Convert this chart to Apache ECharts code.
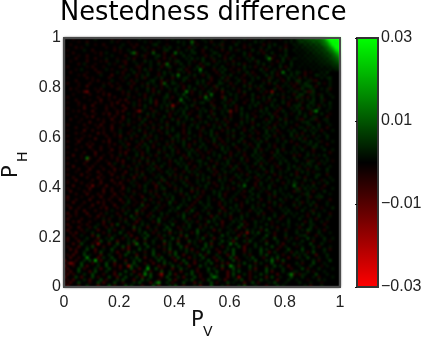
<!DOCTYPE html>
<html><head><meta charset="utf-8">
<style>html,body{margin:0;padding:0;background:#fff}#c{width:436px;height:342px}</style>
<script src="https://cdn.jsdelivr.net/npm/echarts@6/dist/echarts.min.js"></script>
</head><body><div id="c"></div>
<script>
var titleText = 'Nestedness difference';
var axisTicks = [0, 0.2, 0.4, 0.6, 0.8, 1];
var barTicks = [-0.03, -0.01, 0.01, 0.03];
var barLabels = ['\u22120.03', '\u22120.01', '0.01', '0.03'];
var levels = {'.':0, a:0.003, b:0.005, c:0.008, d:0.012, w:-0.003, x:-0.005, y:-0.008, z:-0.012};
// estimated speckle field, top row (P_H = 1) first
var noiseRows = [
'...w.......a.....w..w......a.........w.a.....w....a..a....w......a.w....a.....w...a...a....w...a.....',
'.....w..x........a.w...w.....a.w..a......b.a...w...a.x...a...w.a.....b.a..w.....a.a....a.....a.......',
'..w.....a..w..x......a..w.x.....ab...w.....a..b.w.....a.ax....b..w.a....x.a.b...w..a...b...w..a......',
'....x.w........w..w.a....x..a.w...w.a.b..a...x.a...b...w.a..b....x.w...a..b...a.x...a..w.a...........',
'.w.....a..x.......x.w..a.....a..x...ab...w..a.b...x..a...x..a.wa....b..x.a....w.b..a.a....b...a......',
'...x.......w.x.a....w...b.x...w.a...x...a.b...ab..w...ba...x.....b.w..a.x..b....a...x.a.....w........',
'.w...w..x....w...a....x...w.ax...ab.w..x...b.a.....x.a..b.w..a...a.x.....b..w.a.b....a..ab...a.......',
'....x...w..x...a...w...a.x...w...a..x.a.w...a.b.a.b..wa...x.b..w..a.b....a.x...b.w.a...b....a........',
'..w.....x....w.x...a.wx..a...b.a..x...w.ab...a.w..b...x.a.a..x.....a.wb...a..x.b..a...x.a...w..a.....',
'.....x.a...w....a.w...x...a.w..a..b.x...w.b..a...x.ab..a...w.a.b.x....a.b..w..a...b.w..b....a........',
'.x......w.x...w.....xa....wx...a...x.ab....a.w..b.x...a..b...w...b.a.x..w.a...b.x.a.a....ab...a......',
'....w.a....x...a.w....x.a..w.b.x..a...w..ab.x..a.b....x.a.b.w..x.a.....b.x..a.w..b..a.w...a...b......',
'..x.....w...xw.....a.x...b.w..a...w.b.a..w.a.x...b.a...x.b...w.a..b.x...a..b.w....a.b..x.a...a.......',
'.....w.x.....a...y...w.a..x.a.b...x.a..b.w...a.b..x.a...w.a.b....x.a.w...b.a.x..a.b....a....a........',
'.w......x.w.....x...w.a...w.ax...a.b...x.a.ab..w....ax...b.x..a.w...a.b...xa..w..b.a.x...a.....a.....',
'....x.....w.x....a...w..x.a....ab..x.w.a...b.w..a.b..x..a.wa...b.x..a...w.b..a.x.a..b...a.w..........',
'.x...w...x....w.x..w...a.x..w.b.a..x...ba.w.....b.a.x...ba..x.a..w.b....a.x.b...a.w..a.b....a...a....',
'.....w..y.....a..x..w...x...a.x..a.w.b...a.x.b...w.a..xb...a.w...b.x.a.b.....x.a.a.x...a.b...........',
'..x.w......w.x.....xa...w.a...b.x..w..a.b..x.a.b..w..a.x.b...a.w...b..x.a...b.x...a.w.b...a....a.....',
'.....w.y....x.w......x.a..w...a.x.b...w.a...b.x..a..b.w..y.a...x.b.....a.x.b...w.a.a...b.x...........',
'...w.....x....x.y....w.x...a.x..a.w..b...a.c..w..a.x.a...w..b.a..x..b...w..b.a.a...x.b...a...a.......',
'.x.....w....x...w.x....a.w...x.a....ab.x..a.b....x.b.a...yb...a.w...a.x.a.b....x.a..b.w...a..........',
'....x....w...y..w...x.y....x.a.b.x..a.w...b..a.x...ab.w...b.x.a...w.b...a.x.b..a..w...a.b....a.......',
'.w...x.....x.w...x.y...x.a.w...b.y..a.a..x.b...a.ab..x...a.w.b...x..a.b..w.a...b.x...a...b...........',
'.....w.x..y....w.x...y...a.x.b...x.a.b..w...a.bw.....ax...b.a.x....a.b.w...b.a...x.a.b....a...a......',
'.x.....y...w...x..w...y..w...a.x...a.w.b..a.b...x.a...b.w.a...x.b..a...w.b..a.x...a.b....a...........',
'...w.x....y....w...x.y....x.a...xa...b.w.a.b..w..a.b.x...a.b..x.a....w.b.a...x.b...a.a....b..........',
'.w.....x...w..x.y..x...a.w....b.a.w...x.a..b.x...a...wb..a..x...b.a.w...a.b.x...a.w..b.a.....a.......',
'....w...x.y.....w.x..y...w.a..x.a...b.x...a.b...xa..b.w...a.x...a.b..x.a...b.x..a...b.....a..........',
'..x...w.....x.w..y...x.a...x.b...w.a...b.x..a.b..w...a.b..x.a...w.a.b....x.a..b.x...a.x...a...a......',
'.....w...y....x...w.x..a.w..b..x...a.x...b.a...w.a.b...w.a.x....b.a.x...a.b..w..b.a....a....a........',
'.x.....x...w.y...x...a.x...a.x..a.w..b...a.x..b.a...x.a.w.b...x.a...w.b..a..x.a.a...b....a...........',
'....x...w...x.w..y..w....a.w..a.x..b.x.a...w.a..b.x...a.b..x...a.w..b...a.x.b..a..w...a.....a........',
'.w.....y..x...w..x..a...w..b.w..a.x..a.b...x.a...wa..b...x.a.b...x.a.w...b.a.x...a.b.....a...........',
'....x.w.....y.x...w.a..x.a...x.a...w.b...a.x.b...w.a.b.x...a.w..b...a.x..b..a.w...b.a.....a...a......',
'.x.....w.x.....x..w.y...a.x..b.x.a....x.ab..w..a.x...b.a...w.b...a.x....a.b.x..a..b.x...a............',
'....w.x....y....x...w.a.x...a.x..a.w...b.a.x.b...a.w..b.x..a.w..b...a.x..b...a.w...a.......a.........',
'.x...y...w....x.y...a.w...a.x..b.w...a.x.a.b...x.a..w.b..x.a...b.x...a.b.w...a..b.x...a.....a........',
'....w...x.x.....w.x..a.y...x.b..w.a..x.a...b.x.a..b...x.a.w..b...a.x..b...a.w..a....b....a...........',
'.x....w..y...x..w...x.a...x.a.b.x...a.b.w..a.x...b.a...x.b.a..x...a.w.b...a.x..a...a......b..........',
'....x.....w..x...y..w..x.a.w..b...x.a..b.w..a.b.x..a.w...b.a...x.a...b.x.a...b.x...a.................',
'.w.....x...y....w...x.y...a.x.a...b.w..a.x...b.a.w..x.a...b.x..a.w...b.a...x.b..a.a.....a............',
'...y..w....x..w..x..a.w...b.x..a.x...b.a...x.b..a.w...a.b...x.a..x..b.a.w...b.a....x.a....a..........',
'.x....w..x...y...w.x...a.w..b.x...a.w.a...b.x.a...w.b...a.x.a...b.w..a.b...x.a.a...b.................',
'....w...y...x..w...x.y...a.x..b.w.a...x.b.a...w.ab...x.a...b.w..a.x...b.a.w...a.b...x....a...a.......',
'.x.....x...w....y.a..x...w.a..x.b...a.w..b.a.x...a.b...x.a.b...w.a...b.x.a..w.b..a.......a...........',
'...y....w.x..w...x...a.x..a.w..a.x.b..w...a.b..x.a..w.b...a.x.b...a.w..b...a.x...a.b...a.............',
'.x...x...y....x...y.w...a.x...a.b.x...a.x...b.w.a...b.x..a...b.x..a...w.b..a..w..b...a.....a.........',
'....w...x...y...x.w...y...a.x..a...w.b.a...x.b.a.w...a.x..b.a...w..b.a...x.b..a.a...x................',
'.x....y..w...x...y...x..a.x.b...w.a...b.x.a...w.b.a...x.a.w...b.a.x...b.a...x.a...b........a.........',
'...x....x...y.w....x.a...y.a.x...a.b..w.a.x.b...w.a.b...x.a..w.b...a.x.a..b...x.a...a................',
'.w..y.....x..x...y...w.x.a...w.a...xb...w.a.x...a.b.w...b.a.x...a.b...x..a.w.b...a.a.....a....a......',
'.x....x..w...y....x.y...a.w...a.x.b..x.a...b.w..a...b.x..a...b.w.a...x.b...a...x.a.b.................',
'...y....x...w..y...w.x...a.x.b...y.a..x.a...b.w..a.b...x.a.w...b.a...x.a..b.w...a.......a............',
'.x...w...y....x..x...y.a...w.a...x.ab...x.a...b.x..a.w...b.a.x..a...b.w.a.b...a.a...b....a...........',
'..y....x.w....y..x..w..a.x...b.x.a..w...a.b...y.a.x...b.a..w...a.x.b...a.w..b.a....x.a...............',
'....x...y...x.w...y..x...a.w...a.x..b.a...x.b...a.w...a.b.x...a.w...b.a...x.b..a.a.....a.............',
'.y....w...x..y...x.w..a.x...y...a.x..a.b...w.a.b.x..a...b.w..a...x.a..b...a.x...a.b.....a...a........',
'.x..x....y....w.x...y..a.w...b.x...a.w.b...a.b..x...a.w..b..a.x...a.b..x..a...b.w...a................',
'...y...x....y.x..w...x.b..w.x...a.x...c.w..a...x.b..a...x.a.a...w.b...a...x.b..a...w.a...............',
'.x....w...y...x...y...a..w..c.x...a.w.a...b.a.x...a.b...x.a...b.x...a.w.b...a.x....b.....a...........',
'..y..x...w...x.y...x.a.w...a.x...b.w...a.c...x.a...b.a...y..b.a.w...b.a...x...a.a...x................',
'....x..y...x...w.a...x.a..c.x...a.w...b.a...x.c...a.w...b.x..a.b...x.a.b...w...a.b.......a...........',
'.y..x...y....x.a...x..b...y.a..x...b.a...w.b.a..x...b...x.a.b...w.a...b.x...a...b.a..................',
'..x.w....x..y.w..a..x...c.a...x.b..a.w...a.c...x.a...y.b..a.x...b.a...w.a...b..x...a....a............',
'.y....x....w..a.x...a.x..b.x...a..c.w..a...b.x...a.w..b.a...x.a.b...w...a.c...x..a...................',
'...x.y...x....y.a...w.b...y.a...x.c...a.w...b.a.x...c.a..y...b.a.x...b.a...w.a...b.....a.............',
'.y....w.x...a.x..y.c...a.x..b.a...x.a..c...w.b...a.x...b.x..a...c.x..a...b.w...a.a.......a...........',
'..x..y...x.b...x.a...x...c.a..y..a...c...x.a.b...x.a.b...w.a...c.x...a.b...a.x...a...................',
'.y....x.a...y...b.x..a...y.b...a.x..b.c...x.a...c.a...y.b...a.x...b.a..x.c...a..x...a....a...........',
'..x.y..w..b...x.a...c..x...a.c..x.a...y.a.b...x.c...a...w..b.a..x...b.c...a.x...a....................',
'...x..a...y.c...x.a...b.y...a.c...x.b.a...y.c...a..x.b...c.a...y.b...a...c..x...b.....a..............',
'.y..x...b...y..a.c...x.a..y..c...a.x...c.b..x...a.c...y.a...b.c...x.a...b...c...x.a..................',
'.x...y.a...x.c..b..y...a.c...x..b...c.a..y...c.a.x...b...c.a.y...b.c...a.x...b...a...................',
'...y..c...x.a...y..c...b.x...c..a...y.b..c...x.a...c.y..b...a.c...x..b...c...a.y...b.....a...........',
'.x...y..a.c...x...b..c.y...a..c...x.a.b...c.y...a..c.b...x.a...c.y...b.a...c..x.a....................',
'..y.x...c..y..a..c...x.y...c.a..b...x.c...a.b.y...c.a..x...b.c...y.a...c.b...x...c...................',
'....y..b...x.c...a.y...c.b...x..c...a.y.c...b.a.x...c...y.b..c...x.a...c..y.b...a.x...a..............',
'.x.y...c.a...y..b...x.c...y..a..c.x...b.c..y...a.c.x...b...y.c...a.x...b.c...a.x...b.................',
'..y..x..c...y.b..c..x...a.c..y...b.c...x.c...y.a..c...x.b...c.y...a.c...x..b.c...y...a...............',
'y...x..b.c...y..a.c...y..b.c...x..c.b...y..c...x.a..c..y.b...c.x...a.c...b...x.c.....................',
'.x.y..c...x.a..c..y...b..c...x..y...c.b...x.c..y...b.c...x.y...a.c...x.b...c...x.....................',
'y..x..c.y...b..c..x.y...c.b...c...y.x..c.b...y...c.a...x.c...b.y...c.a...x..c.b..y...a...............',
'.y...c.x...b.y..c...x...c..y..b..c.x...y..c.a...x...c.b..y...c.a...b.y...c.a...b..x..................',
'x.y..c...y.c...b..x...c..y...c.x...c..b...y...c.x...b..c...y.b.c...x.a...c.y...b...a.................',
'.y.x...b..c...x...y.c...b..y...c..x...c.y...b.c..x...c.a...y.c...b.x...c.a...y...b.x..a..............',
'y...c.y...c.x...c..y..c...b.y..c...x.c...b.y...c.x...b.c...y.a.c...x.b...y.c..a...c..................',
'.x.y...b.y...c.x...b.c...y..c.b...x...c.y...b.c...x.c...a.y...b.c..x...c.a...y...b..x................',
'x.y..c...x..c.y...c..x...b.c...y.c...b.x...c...y.b...c.x...c.a...y..c.x...a.c...a....................',
'.y...x..b...y...c.x...c.b...x...c.y...b.c..x...a.y...c...a.x...b.c...a...x...b.a.....................'
];
// specks of the right margin, columns 84 to 98, rows 12 down to 89
var rightFirstColumn = 84;
var rightFirstRow = 12;
var rightRows = [
'.a...w...a.b..','a..x...b..a...','...a.w...a..b.','.b...a.x....a.','x...a...b.w...','..a.b..x....a.','.w...a...a..x.','a...x.b....a..',
'..b...a.w...a.','.a..x....b...a','x...a.b...w...','..w...a..a..b.','a...b...x...a.','..x.a...b...a.','.b...w.a...a..','...a.x...b..w.',
'a..b...a...x..','.w...a.x...a..','..a.b...w..a..','x...a...b...a.','.a..w.b....x..','...b...a.x...a','a.x...b...a...','..a...w.a..b..',
'.b.x...a...a..','...a.b...w...a','x...a..b...x..','.a.w...a.a....','..b...x...b..a','a...a.w.....x.','.x..b...a.b...','...a...w...a..',
'b...x.a....a.w','..a.b...x.a...','.w...a.b....a.','a...x...a..b..','..b.a.w....a..','x...a...b..x..','.a.x...b....a.','...b.a...w...a',
'a.w...x.a..b..','..a...b...x...','.x.b...a.w...a','a...a.x...b...','..w.b...a...a.','.a...x.a.b....','b...a...w...x.','..x.a.b....a..',
'.a...b.x...a..','x..a...a.w...b','..b...x...a...','a...w.b.a...x.','..a.x...b...a.','.b...a.x...a..','...x.b...a.w..','a.b...a...x...',
'.x...b.w...a..','..a.c...a.x...','b...x...b...a.','.a.b...x.a....','x...c.a...b..a','..b...x...a.w.','.a...c...b....','w.a...b.x...a.',
'..c...a...b.x.','b...x.c...a...','.a.b...y...b..','x...c...a..a..','..a...b.x...c.','b.x...c...a...','.a...b...w.a..','..c.x...b....a',
'a...b.w...a...','.x.a...c...a..','..b...a.x....a','a...w...b.a...','.b...a...w....','...a.x...a....'
];
// brightest individually located specks: [column, row, value]
var brightSpecks = [[25,5,.014],[32,5,.012],[40,5,.014],[46,1,.014],[37,9,.014],[41,13,.016],[36,16,.012],[44,19,.016],[42,22,.016],[49,11,.016],
[39,24,-.018],[27,26,-.016],[8,19,-.014],[8,43,.016],[51,21,.016],[53,20,.014],[75,19,-.016],[91,26,.018],[79,12,.016],[74,7,.016],[60,26,-.014],
[30,83,.022],[11,80,.022],[8,79,.018],[34,88,.018],[23,82,-.018],[2,81,-.016],[12,74,-.018],[29,85,.018],[26,74,.015],[35,85,-.018],[10,53,-.014],
[60,82,.018],[63,86,-.016],[54,86,.016],[82,85,.016],[75,80,.014],[65,53,.014],[60,74,.014],[66,70,-.016],[83,53,.013]];
// top right corner, columns 84 to 99, rows 0 down to 11
var cornerFirstColumn = 84;
var cornerRows = [
[.004,.006,.003,.008,.006,.010,.007,.011,.009,.013,.016,.026,.030,.030,.030,.030],
[.002,.005,.007,.003,.007,.005,.010,.006,.010,.011,.014,.018,.028,.030,.030,.030],
[.001,.003,.001,.006,.002,.007,.003,.008,.005,.010,.012,.015,.021,.030,.030,.030],
[.003,0,.004,.001,.005,.002,.006,.003,.007,.005,.009,.011,.016,.022,.030,.030],
[0,.002,0,.003,.001,.005,.002,.006,.003,.007,.006,.010,.012,.016,.024,.028],
[.002,0,.002,0,.004,0,.005,.002,.006,.003,.007,.005,.010,.012,.017,.022],
[0,.002,0,.003,0,.003,.001,.004,.002,.005,.004,.007,.006,.010,.013,.017],
[.002,0,.002,0,.003,.001,.003,.001,.004,.002,.005,.003,.007,.008,.010,.013],
[0,.001,0,.002,0,.003,0,.003,.001,.004,.002,.005,.004,.006,.008,.010],
[.001,0,.002,0,.002,0,.002,0,.003,.001,.004,.002,.004,.005,.006,.007],
[0,.002,0,.001,0,.002,0,.002,0,.003,0,.003,.001,.004,.004,.005],
[.001,0,0,.001,0,0,.002,0,.002,0,.002,0,.003,.001,.003,.003]
];

var cols = [], rowsIdx = [], i;
for (i = 0; i < 100; i++) cols.push(i);
for (i = 0; i < 90; i++) rowsIdx.push(i);
var field = {};
noiseRows.forEach(function (s, r) { for (var c = 0; c < 100 && c < s.length; c++) { field[c + '_' + r] = levels[s[c]] || 0; } });
rightRows.forEach(function (s, r) { for (var k = 0; k < s.length; k++) { if (levels[s[k]]) field[(rightFirstColumn + k) + '_' + (rightFirstRow + r)] = levels[s[k]]; } });
brightSpecks.forEach(function (p) { field[p[0] + '_' + p[1]] = p[2]; });
cornerRows.forEach(function (row, r) { row.forEach(function (v, k) { field[(cornerFirstColumn + k) + '_' + r] = v; }); });
var cells = [];
cols.forEach(function (c) { rowsIdx.forEach(function (r) { cells.push([c, 89 - r, field[c + '_' + r] || 0]); }); });

var chart = echarts.init(document.getElementById('c'), null, {renderer: 'canvas'});
var FONT = '"Liberation Sans"';
var frame = '#4a4a4a';
function valueAxis(pos, extra) {
  return Object.assign({
    type: 'value', position: pos, min: 0, max: 1, interval: 0.2, zlevel: 1,
    splitLine: {show: false},
    axisLine: {show: false},
    axisTick: {show: false},
    axisLabel: {fontFamily: FONT, fontSize: 16, color: '#222', margin: pos === 'left' ? 3 : 8, padding: pos === 'left' ? [3, 0, 0, 0] : 0, hideOverlap: false, showMinLabel: true, showMaxLabel: true,
      formatter: function (v) { var k = axisTicks.indexOf(+(+v).toFixed(1)); return k < 0 ? '' : String(axisTicks[k]); }}
  }, extra || {});
}
chart.setOption({
  animation: false,
  backgroundColor: '#fff',
  grid: [
    {left: 64, top: 38, width: 276, height: 249, show: true, z: 10, zlevel: 1, backgroundColor: 'transparent', borderColor: frame, borderWidth: 2},
    {left: 357, top: 38, width: 21, height: 249, show: true, z: 10, zlevel: 1, backgroundColor: 'transparent', borderColor: '#333', borderWidth: 2}
  ],
  xAxis: [
    {type: 'category', gridIndex: 0, data: cols, show: false},
    valueAxis('bottom', {gridIndex: 0}),
    {type: 'value', gridIndex: 1, min: 0, max: 1, show: false}
  ],
  yAxis: [
    {type: 'category', gridIndex: 0, data: rowsIdx, show: false},
    valueAxis('left', {gridIndex: 0}),
    {type: 'value', gridIndex: 1, position: 'right', min: -0.03, max: 0.03, zlevel: 1, z: 11,
      splitLine: {show: false}, axisLine: {show: false},
      axisTick: {show: true, inside: true, length: 2, customValues: barTicks, lineStyle: {color: '#111', width: 1}},
      axisLabel: {customValues: barTicks, fontFamily: FONT, fontSize: 16, color: '#222', margin: 3, padding: [3, 0, 0, 0],
        formatter: function (v) { var k = barTicks.indexOf(+(+v).toFixed(2)); return k < 0 ? '' : barLabels[k]; }}}
  ],
  visualMap: {
    type: 'continuous', seriesIndex: 0, min: -0.03, max: 0.03, left: 357, top: 38, itemWidth: 21, itemHeight: 249, zlevel: 1,
    padding: 0, calculable: false, realtime: false, text: ['', ''], textGap: 0, hoverLink: false,
    inRange: {color: ['#ff0000', '#000000', '#00ff00']}
  },
  series: [{type: 'heatmap', xAxisIndex: 0, yAxisIndex: 0, data: cells, progressive: 0, emphasis: {disabled: true}, itemStyle: {borderWidth: 0}},
           {type: 'scatter', xAxisIndex: 1, yAxisIndex: 1, data: [], silent: true, zlevel: 1},
           {type: 'scatter', xAxisIndex: 2, yAxisIndex: 2, data: [], silent: true, zlevel: 1}],
  graphic: [
    {type: 'rect', zlevel: 0, z: -1, shape: {x: 64, y: 38, width: 276, height: 249}, style: {fill: '#000'}},
    {type: 'text', zlevel: 1, x: 60, y: 0, style: {text: titleText, font: '25.7px "DejaVu Sans"', fill: '#000'}},
    {type: 'text', zlevel: 1, x: 191, y: 310, style: {text: 'P', font: '21px "DejaVu Sans"', fill: '#111'}},
    {type: 'text', zlevel: 1, x: 203, y: 325, style: {text: 'V', font: '14px "DejaVu Sans"', fill: '#111'}},
    {type: 'text', zlevel: 1, x: 1, y: 178, rotation: Math.PI / 2, style: {text: 'P', font: '21px "DejaVu Sans"', fill: '#111'}},
    {type: 'text', zlevel: 1, x: 16, y: 162, rotation: Math.PI / 2, style: {text: 'H', font: '14px "DejaVu Sans"', fill: '#111'}}
  ]
});
// the field in the reference is a resampled bitmap, so only the heatmap layer (lowest canvas) is softened
var layers = document.querySelectorAll('#c canvas');
if (layers.length > 1) layers[0].style.filter = 'blur(0.8px)';
</script></body></html>
